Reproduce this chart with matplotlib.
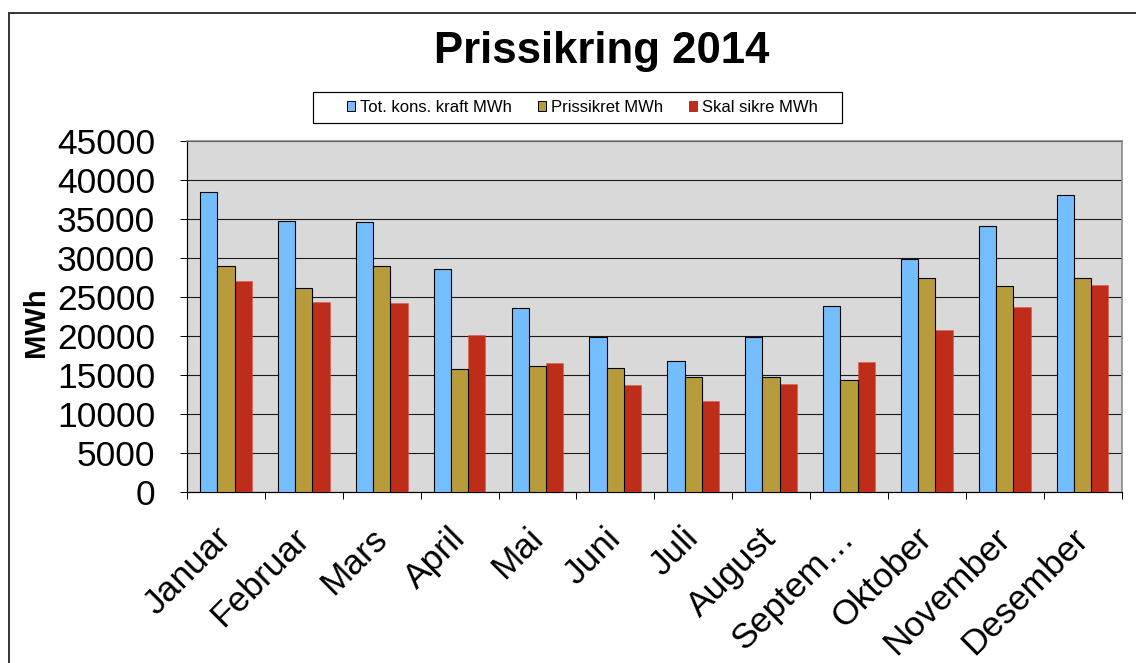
import matplotlib
matplotlib.use("Agg")
import matplotlib.pyplot as plt
import matplotlib.transforms as mtransforms
from matplotlib.patches import Rectangle, Patch
import numpy as np

plt.rcParams['font.family'] = ['Liberation Sans', 'DejaVu Sans']

months = ["Januar", "Februar", "Mars", "April", "Mai", "Juni", "Juli",
          "August", "Septem\u2026", "Oktober", "November", "Desember"]
tot_kons = [38500, 34800, 34600, 28600, 23600, 19850, 16800, 19850, 23900, 29850, 34150, 38100]
prissikret = [29000, 26200, 29000, 15800, 16200, 15900, 14700, 14700, 14300, 27450, 26450, 27450]
skal_sikre = [27000, 24400, 24200, 20100, 16500, 13700, 11700, 13900, 16650, 20750, 23750, 26550]
series_names = ["Tot. kons. kraft MWh", "Prissikret MWh", "Skal sikre MWh"]
yticks = list(range(0, 45001, 5000))

c_blue = "#74BDFF"
c_gold = "#B89B3A"
c_red = "#BE2D19"

W, H = 1136, 663
fig = plt.figure(figsize=(W / 100, H / 100), dpi=100)
px = 72 / 100  # points per pixel

# outer chart frame
fig.patches.append(Rectangle((9 / W, -0.1), 1.2, 1 - 13 / H + 0.1, transform=fig.transFigure,
                             fill=False, edgecolor="#3a3a3a", linewidth=2 * px))

ax = fig.add_axes([187 / W, 1 - 492 / H, (1121.5 - 187) / W, (492 - 141) / H])
ax.set_facecolor("#D9D9D9")

x = np.arange(len(months))
bw = 0.222
ax.bar(x - bw, tot_kons, bw, color=c_blue, edgecolor="black", linewidth=1.1 * px, zorder=3)
ax.bar(x, prissikret, bw, color=c_gold, edgecolor="black", linewidth=1.1 * px, zorder=3)
ax.bar(x + bw, skal_sikre, bw, color=c_red, edgecolor="#D9584A", linewidth=0.5 * px, zorder=2.9)

ax.set_xlim(-0.5, len(months) - 0.5)
ax.set_ylim(0, 45000)
ax.set_yticks(yticks)
ax.set_yticklabels([str(v) for v in yticks], fontsize=25.5)
ax.yaxis.grid(True, color="#1a1a1a", linewidth=1.1 * px, zorder=1)
ax.set_axisbelow(True)
ax.tick_params(axis='y', length=7 * px, width=1 * px, pad=25 * px, color="black")

ax.set_xticks(x)
ax.set_xticks(np.arange(-0.5, len(months), 1.0), minor=True)
ax.tick_params(axis='x', which='major', length=0, pad=48 * px)
ax.tick_params(axis='x', which='minor', length=7 * px, width=1 * px, color="black")
labels = ax.set_xticklabels(months, fontsize=25.5, rotation=45, ha='right', va='baseline',
                            rotation_mode='anchor')
offset = mtransforms.ScaledTranslation(7 / 100, 0, fig.dpi_scale_trans)
for lab in labels:
    lab.set_transform(lab.get_transform() + offset)

for s in ["left", "bottom"]:
    ax.spines[s].set_color("black")
    ax.spines[s].set_linewidth(1.2 * px)
for s in ["top", "right"]:
    ax.spines[s].set_color("#808080")
    ax.spines[s].set_linewidth(1.5 * px)

# title
fig.text(601.5 / W, 1 - 63 / H, "Prissikring 2014", fontsize=31.5, fontweight='bold',
         ha='center', va='baseline')
# y label
fig.text(36 / W, 1 - 322 / H, "MWh", fontsize=21, fontweight='bold', rotation=90,
         ha='center', va='center')

# legend box
fig.patches.append(Rectangle((313 / W, 1 - 123 / H), (842 - 313) / W, 31 / H,
                             transform=fig.transFigure, fill=False, edgecolor="black",
                             linewidth=1.2 * px))
handles = [Patch(facecolor=c_blue, edgecolor="black", linewidth=1 * px),
           Patch(facecolor=c_gold, edgecolor="black", linewidth=1 * px),
           Patch(facecolor=c_red, edgecolor=c_red, linewidth=1 * px)]
fig.legend(handles, series_names, loc='center', bbox_to_anchor=(582.5 / W, 1 - 107.5 / H),
           ncol=3, frameon=False, fontsize=12, handlelength=0.5, handleheight=0.5,
           handletextpad=0.3, columnspacing=1.55, borderpad=0.2)

fig.savefig("out.png", dpi=100)
